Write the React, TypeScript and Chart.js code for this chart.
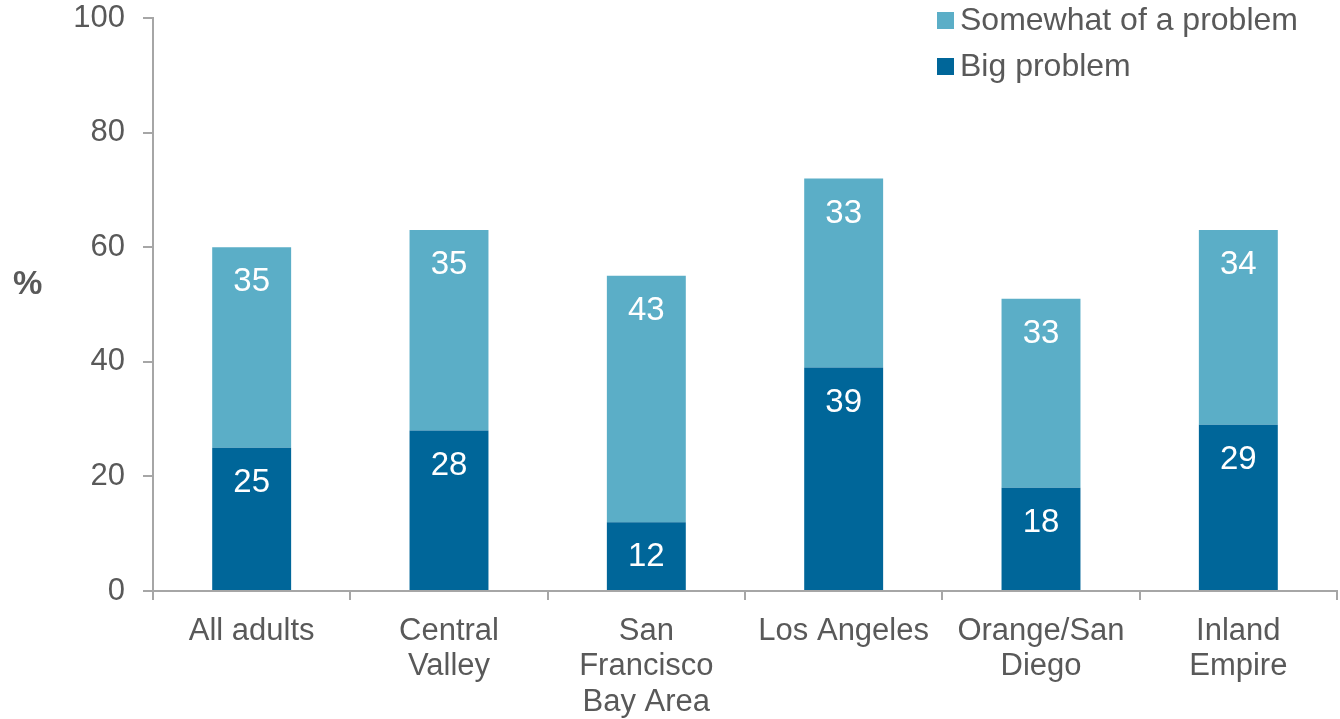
import React, { useEffect, useRef } from "react";
import { Chart, registerables } from "chart.js";

Chart.register(...registerables);

const categories: string[][] = [
  ["All adults"],
  ["Central", "Valley"],
  ["San", "Francisco", "Bay Area"],
  ["Los Angeles"],
  ["Orange/San", "Diego"],
  ["Inland", "Empire"],
];
const bigProblem = [25, 28, 12, 39, 18, 29];
const somewhatProblem = [35, 35, 43, 33, 33, 34];
const yTicks = [0, 20, 40, 60, 80, 100];

const DARK = "#006699";
const LIGHT = "#5BAEC7";
const TEXT = "#595959";
const AXIS = "#a6a6a6";
const FONT = "'Liberation Sans', Arial, sans-serif";

const overlayPlugin = {
  id: "overlay",
  afterDatasetsDraw(chart: any) {
    const ctx = chart.ctx;
    ctx.save();
    ctx.fillStyle = "#ffffff";
    ctx.font = `33px ${FONT}`;
    ctx.textAlign = "center";
    ctx.textBaseline = "middle";
    chart.data.datasets.forEach((ds: any, di: number) => {
      const meta = chart.getDatasetMeta(di);
      meta.data.forEach((bar: any, i: number) => {
        ctx.fillText(String(ds.data[i]), bar.x, bar.y + 35);
      });
    });
    ctx.fillStyle = TEXT;
    ctx.font = `bold 33px ${FONT}`;
    ctx.textAlign = "left";
    ctx.fillText("%", 13, 285);
    ctx.font = `32px ${FONT}`;
    const items = [...chart.data.datasets].reverse();
    items.forEach((ds: any, k: number) => {
      const cy = 20 + k * 46;
      ctx.fillStyle = ds.backgroundColor;
      ctx.fillRect(937, cy - 8, 17, 17);
      ctx.fillStyle = TEXT;
      ctx.fillText(ds.label, 960, cy + 1);
    });
    ctx.restore();
  },
};

export default function App() {
  const ref = useRef<HTMLCanvasElement | null>(null);
  useEffect(() => {
    if (!ref.current) return;
    const chart = new Chart(ref.current, {
      type: "bar",
      data: {
        labels: categories as any,
        datasets: [
          { label: "Big problem", data: bigProblem, backgroundColor: DARK },
          { label: "Somewhat of a problem", data: somewhatProblem, backgroundColor: LIGHT },
        ],
      },
      options: {
        animation: false,
        responsive: true,
        maintainAspectRatio: false,
        layout: { padding: { top: 18, right: 3, left: 0, bottom: 0 } },
        plugins: { legend: { display: false }, tooltip: { enabled: false } },
        datasets: { bar: { barPercentage: 0.4, categoryPercentage: 1 } },
        scales: {
          x: {
            stacked: true,
            border: { color: AXIS, width: 2 },
            grid: { display: true, drawOnChartArea: false, offset: true, color: AXIS, lineWidth: 2, tickLength: 9 },
            ticks: { color: TEXT, font: { family: FONT, size: 31, lineHeight: 1.16 }, padding: 13, maxRotation: 0, autoSkip: false },
            afterFit: (s: any) => { s.height = 128; s.paddingLeft = 0; s.paddingRight = 0; },
          },
          y: {
            stacked: true,
            min: 0,
            max: 100,
            border: { color: AXIS, width: 2 },
            grid: { display: true, drawOnChartArea: false, color: AXIS, lineWidth: 2, tickLength: 10 },
            afterBuildTicks: (s: any) => { s.ticks = yTicks.map((v) => ({ value: v })); },
            ticks: { color: TEXT, font: { family: FONT, size: 31, lineHeight: 1.1 }, padding: 18 },
            afterFit: (s: any) => { s.width = 153; s.paddingTop = 0; s.paddingBottom = 0; },
          },
        },
      },
      plugins: [overlayPlugin],
    });
    return () => chart.destroy();
  }, []);
  return (
    <div style={{ position: "fixed", left: 0, top: 0, width: 1340, height: 719, background: "#fff" }}>
      <canvas ref={ref} />
    </div>
  );
}
